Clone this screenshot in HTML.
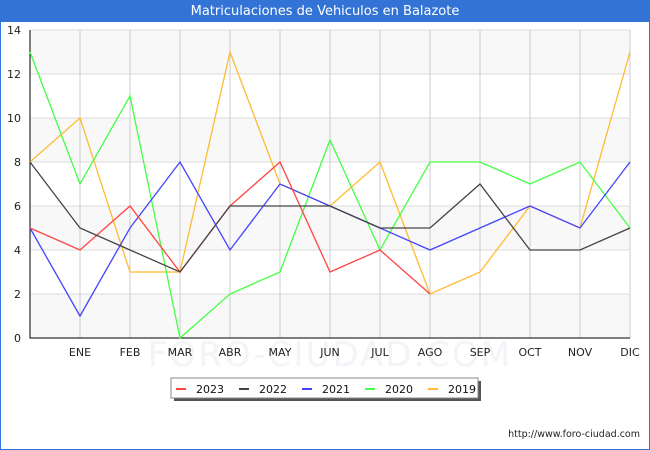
<!DOCTYPE html>
<html><head><meta charset="utf-8"><style>
body{margin:0;background:#fff;}
#wrap{position:relative;width:648px;height:448px;border:1px solid #3373d6;background:#fff;font-family:"DejaVu Sans","Liberation Sans",sans-serif;}
#title{position:absolute;left:0;top:0;width:648px;height:21px;background:#3373d6;color:#fff;font-size:13px;line-height:22px;text-align:center;z-index:2;}
svg{position:absolute;left:-1px;top:-1px;}
</style></head><body>
<div id="wrap">
<div id="title">Matriculaciones de Vehiculos en Balazote</div>
<svg id="chart" width="650" height="450"></svg>
</div>
<script>
const categories=["","ENE","FEB","MAR","ABR","MAY","JUN","JUL","AGO","SEP","OCT","NOV","DIC"];
const yTicks=[0,2,4,6,8,10,12,14];
const seriesNames=["2023","2022","2021","2020","2019"];
const seriesColors=["#ff4444","#444444","#4444ff","#44ff44","#ffbb33"];
const s2023=[5,4,6,3,6,8,3,4,2];
const s2022=[8,5,4,3,6,6,6,5,5,7,4,4,5];
const s2021=[5,1,5,8,4,7,6,5,4,5,6,5,8];
const s2020=[13,7,11,0,2,3,9,4,8,8,7,8,5];
const s2019=[8,10,3,3,13,7,6,8,2,3,6,5,13];
const seriesData=[s2023,s2022,s2021,s2020,s2019];
const svg=document.getElementById('chart');const NS="http://www.w3.org/2000/svg";
const L=30,R=630,T=30,B=338,yMax=14;
const x=i=>L+i*(R-L)/(categories.length-1);
const y=v=>B-v*(B-T)/yMax;
function mk(t,a,p){const e=document.createElementNS(NS,t);for(const k in a)e.setAttribute(k,a[k]);(p||svg).appendChild(e);return e;}
for(let i=0;i<yTicks.length-1;i+=2){
 const b=mk('rect',{x:L,y:y(yTicks[i+1]),width:R-L,height:y(yTicks[i])-y(yTicks[i+1]),fill:'#f8f8f8'});
 
}
const wm=mk('text',{x:330,y:366,'text-anchor':'middle','font-size':34,fill:'#f3f3f8','letter-spacing':'2'});wm.textContent="FORO-CIUDAD.COM";

yTicks.forEach(v=>{
 const g=mk('line',{x1:L,x2:R,y1:y(v),y2:y(v),stroke:'#dddddd'});
 
 const t=mk('text',{x:L-9,y:y(v)+4,'text-anchor':'end','font-size':11,fill:'#222'});t.textContent=v;
 
});
categories.forEach((c,i)=>{
 if(i>0){const g=mk('line',{x1:x(i),x2:x(i),y1:T,y2:B,stroke:'#cccccc'});
 }
 const t=mk('text',{x:x(i),y:B+18,'text-anchor':'middle','font-size':11,fill:'#222'});t.textContent=c;
 
});
const ax=mk('path',{d:`M${L} ${T}V${B}H${R}`,fill:'none',stroke:'#000'});

const order=[4,3,2,0,1];
order.forEach(s=>{
 const pts=seriesData[s].map((v,i)=>x(i)+','+y(v)).join(' ');
 const p=mk('polyline',{points:pts,fill:'none',stroke:seriesColors[s],'stroke-width':1.3});
 
});
const lg=mk('g',{});
mk('rect',{x:174,y:381,width:307,height:20,fill:'#555'},lg);
mk('rect',{x:171,y:378,width:307,height:20,fill:'#fff',stroke:'#888'},lg);
seriesNames.forEach((n,i)=>{
 const gx=176+i*63;
 const e=mk('g',{},lg);
 mk('line',{x1:gx,x2:gx+10,y1:389,y2:389,stroke:seriesColors[i],'stroke-width':2},e);
 const t=mk('text',{x:gx+20,y:393,'font-size':11,fill:'#111'},e);t.textContent=n;
});
const u=mk('text',{x:640,y:437,'text-anchor':'end','font-size':9.5,fill:'#222'});u.textContent="http://www.foro-ciudad.com";

</script>
</body></html>
